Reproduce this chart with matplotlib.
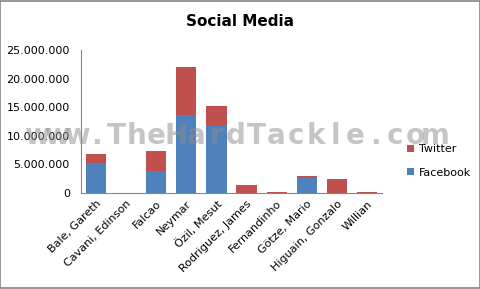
import matplotlib
matplotlib.use("Agg")
import matplotlib.pyplot as plt
from matplotlib.ticker import FuncFormatter
import numpy as np

players = ["Bale, Gareth", "Cavani, Edinson", "Falcao", "Neymar", "Özil, Mesut",
           "Rodriguez, James", "Fernandinho", "Götze, Mario", "Higuain, Gonzalo", "Willian"]
facebook = [5200000, 0, 3850000, 13600000, 11700000, 0, 0, 2700000, 0, 0]
twitter = [1600000, 0, 3450000, 8400000, 3500000, 1400000, 200000, 300000, 2450000, 200000]

watermark = "www.TheHardTackle.com"

blue = "#4f81bd"
red = "#c0504d"

fig = plt.figure(figsize=(4.81, 2.89), dpi=100)
ax = fig.add_axes([81 / 481, 1 - 193 / 289, 301 / 481, 143 / 289])

x = np.arange(len(players))
ax.bar(x, facebook, width=0.67, color=blue, label="Facebook", zorder=2)
ax.bar(x, twitter, width=0.67, bottom=facebook, color=red, label="Twitter", zorder=2)

ax.set_xlim(-0.5, len(players) - 0.5)
ax.set_ylim(0, 25000000)
ax.set_yticks(range(0, 25000001, 5000000))
ax.yaxis.set_major_formatter(FuncFormatter(lambda v, p: f"{int(v):,}".replace(",", ".")))
ax.set_xticks(x)
ax.set_xticklabels(players, rotation=45, ha="right", rotation_mode="anchor", fontsize=8)
ax.tick_params(axis="y", length=0, labelsize=8, pad=8)
ax.tick_params(axis="x", length=0, pad=4)
for s in ["top", "right"]:
    ax.spines[s].set_visible(False)
for s in ["left", "bottom"]:
    ax.spines[s].set_color("#868686")

fig.text(0.5, 1 - 22 / 289, "Social Media", ha="center", va="center",
         fontsize=11, fontweight="bold")

handles, labels = ax.get_legend_handles_labels()
fig.legend(handles[::-1], labels[::-1], loc="center left",
           bbox_to_anchor=(397 / 481, 1 - 161 / 289), frameon=False,
           fontsize=8, handlelength=0.6, handleheight=0.6, labelspacing=1.2,
           handletextpad=0.5)

# spaced-out watermark across the chart
centers = np.linspace(37, 435, len(watermark))
for ch, cx in zip(watermark, centers):
    fig.text(cx / 481, 1 - 144 / 289, ch, ha="center", va="baseline",
             fontsize=20, fontweight="bold", family="DejaVu Sans",
             color="#8c8c8c", alpha=0.5, zorder=10)

fig.patches.append(plt.Rectangle((0.001, 0.002), 0.997, 0.995, transform=fig.transFigure,
                                 fill=False, edgecolor="#868686", linewidth=1.2))

fig.savefig("out.png", dpi=100)
